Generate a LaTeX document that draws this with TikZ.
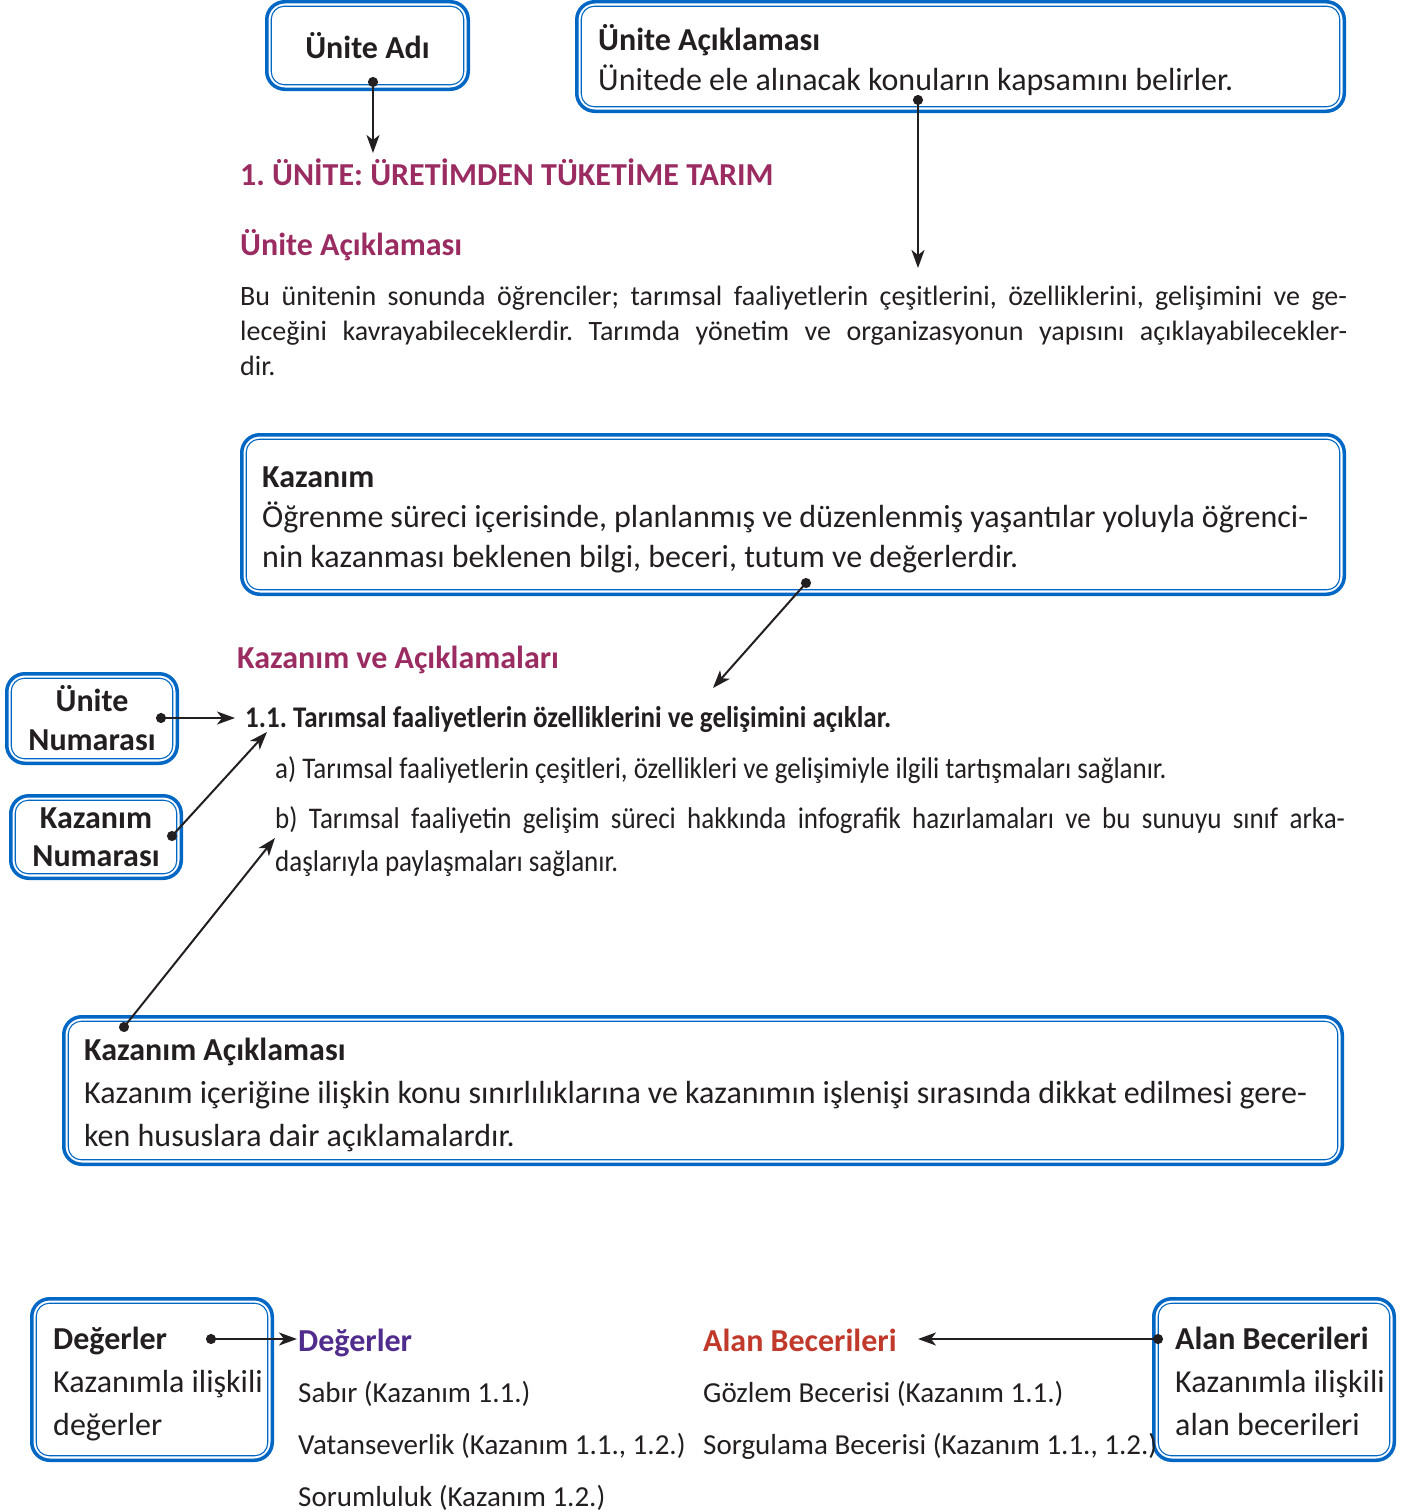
\documentclass[tikz,border=0pt]{standalone}
\usepackage{fontspec}
\setmainfont{Carlito}
\newfontfamily\condfont[FakeStretch=0.9]{Carlito}
\usetikzlibrary{positioning,arrows.meta,calc}
\frenchspacing

\definecolor{ublue}{RGB}{0,103,197}
\definecolor{umag}{RGB}{155,44,98}
\definecolor{upurple}{RGB}{80,45,140}
\definecolor{ured}{RGB}{192,57,43}
\definecolor{ink}{RGB}{35,31,32}

\tikzset{
  ubox/.style={draw=ublue, line width=3.5pt, rounded corners=18pt, fill=white, text=ink,
    path picture={\draw[ublue, line width=1.1pt, rounded corners=13pt]
      ([shift={(4.5pt,4.5pt)}]path picture bounding box.south west) rectangle
      ([shift={(-4.5pt,-4.5pt)}]path picture bounding box.north east);}},
  boxtext/.style={font=\fontsize{32}{40}\selectfont, text=ink, align=flush left, inner sep=0pt, anchor=north west},
  head/.style={font=\fontsize{32}{38}\selectfont\bfseries, text=umag, anchor=base west, inner sep=0pt},
  body/.style={font=\fontsize{28}{35}\selectfont, text=ink, inner sep=0pt},
  cond/.style={font=\fontsize{30}{43}\selectfont\condfont, text=ink, inner sep=0pt},
  item/.style={font=\fontsize{29}{34}\selectfont, text=ink, inner sep=0pt, anchor=base west},
  conn/.style={draw=ink, line width=2pt, {Circle[length=10pt]}-{Stealth[length=18pt,width=13pt,inset=5pt]}, shorten <=-5pt},
}

\begin{document}
\begin{tikzpicture}[x=1pt, y=-1pt]
    \useasboundingbox (0,0) rectangle (1411,1512);

    %%%%%%%%%%%%%%%
    % UNIT HEADER %
    %%%%%%%%%%%%%%%
    \node[ubox, minimum width=201.5pt, minimum height=87.5pt, font=\fontsize{32}{38}\selectfont\bfseries] (adi) at (367.5,45.5) {Ünite Adı};
    \node[ubox, minimum width=767.5pt, minimum height=109.5pt] (uaci) at (960.5,56.5) {};
    \node[boxtext] (uacitext) at (598,22) {\strut\textbf{Ünite Açıklaması}\\Ünitede ele alınacak konuların kapsamını belirler.};

    \node[head] (title) at (240,185) {1. ÜNİTE: ÜRETİMDEN TÜKETİME TARIM};
    \node[head] (uacihead) at (240,255) {Ünite Açıklaması};
    \node[body, anchor=north west, text width=1107pt, align=justify] (para) at (240,281) {\strut Bu ünitenin sonunda öğrenciler; tarımsal faaliyetlerin çeşitlerini, özelliklerini, gelişimini ve ge-\linebreak leceğini kavrayabileceklerdir. Tarımda yönetim ve organizasyonun yapısını açıklayabilecekler-\linebreak dir.};

    %%%%%%%%%%%%%%%%
    % KAZANIM PART %
    %%%%%%%%%%%%%%%%
    \node[ubox, minimum width=1102.5pt, minimum height=159.5pt] (kaz) at (793,514.5) {};
    \node[boxtext, align=justify, text width=1046pt] (kaztext) at (262,459) {\strut\textbf{Kazanım}\\Öğrenme süreci içerisinde, planlanmış ve düzenlenmiş yaşantılar yoluyla öğrenci-\linebreak nin kazanması beklenen bilgi, beceri, tutum ve değerlerdir.};

    \node[head] (kazhead) at (237,668) {Kazanım ve Açıklamaları};
    \node[ubox, minimum width=170.5pt, minimum height=89.5pt, align=flush center, font=\fontsize{32}{39}\selectfont\bfseries] (unum) at (92,718.5) {Ünite\\Numarası};
    \node[ubox, minimum width=170.5pt, minimum height=82.5pt, align=flush center, font=\fontsize{32}{38}\selectfont\bfseries] (knum) at (96,837) {Kazanım\\Numarası};

    \node[cond, anchor=base west, font=\fontsize{30}{34}\selectfont\condfont\bfseries] (k11) at (245,727) {1.1. Tarımsal faaliyetlerin özelliklerini ve gelişimini açıklar.};
    \node[cond, anchor=base west] (itema) at (275,778) {a) Tarımsal faaliyetlerin çeşitleri, özellikleri ve gelişimiyle ilgili tartışmaları sağlanır.};
    \node[cond, anchor=north west, text width=1070pt, align=justify] (itemb) at (275,798) {\noindent\hangindent=30pt\hangafter=1\strut b) Tarımsal faaliyetin gelişim süreci hakkında infografik hazırlamaları ve bu sunuyu sınıf arka-\linebreak daşlarıyla paylaşmaları sağlanır.};

    \node[ubox, minimum width=1278.5pt, minimum height=147.5pt] (kaci) at (703,1090.5) {};
    \node[boxtext, align=justify, text width=1223pt, font=\fontsize{32}{43}\selectfont] (kacitext) at (84,1030) {\strut\textbf{Kazanım Açıklaması}\\Kazanım içeriğine ilişkin konu sınırlılıklarına ve kazanımın işlenişi sırasında dikkat edilmesi gere-\linebreak ken hususlara dair açıklamalardır.};

    %%%%%%%%%%%%%%%%%%%%%%%%%%%%%%%
    % DEGERLER / ALAN BECERILERI %
    %%%%%%%%%%%%%%%%%%%%%%%%%%%%%%%
    \node[ubox, minimum width=240.5pt, minimum height=161.5pt] (degbox) at (152,1379.5) {};
    \node[boxtext, font=\fontsize{32}{43}\selectfont] (degtext) at (53,1319) {\strut\textbf{Değerler}\\Kazanımla ilişkili\\değerler};
    \node[ubox, minimum width=240.5pt, minimum height=161.5pt] (alanbox) at (1274,1379.5) {};
    \node[boxtext, font=\fontsize{32}{43}\selectfont] (alantext) at (1175,1319) {\strut\textbf{Alan Becerileri}\\Kazanımla ilişkili\\alan becerileri};

    \node[head, text=upurple] (deghead) at (298,1351) {Değerler};
    \node[item] (deg1) at (298,1402) {Sabır (Kazanım 1.1.)};
    \node[item] (deg2) at (298,1454) {Vatanseverlik (Kazanım 1.1., 1.2.)};
    \node[item] (deg3) at (298,1506) {Sorumluluk (Kazanım 1.2.)};

    \node[head, text=ured] (alanhead) at (703,1351) {Alan Becerileri};
    \node[item] (alan1) at (703,1402) {Gözlem Becerisi (Kazanım 1.1.)};
    \node[item] (alan2) at (703,1454) {Sorgulama Becerisi (Kazanım 1.1., 1.2.)};

    % connector ends
    \coordinate (adi-dot) at (373,82);
    \coordinate (adi-tip) at (373,153);
    \coordinate (uaci-dot) at (918,100);
    \coordinate (uaci-tip) at (918,268);
    \coordinate (kaz-dot) at (806,583);
    \coordinate (kaz-tip) at (713,688);
    \coordinate (unum-dot) at (161,718);
    \coordinate (unum-tip) at (235,718);
    \coordinate (knum-dot) at (172,836);
    \coordinate (knum-tip) at (267,732);
    \coordinate (kaci-dot) at (124,1027);
    \coordinate (kaci-tip) at (275,838);
    \coordinate (deg-dot) at (211,1339);
    \coordinate (deg-tip) at (297,1339);
    \coordinate (alan-dot) at (1158,1339);
    \coordinate (alan-tip) at (918,1339);

    \draw[conn] (adi-dot) -- (adi-tip);
    \draw[conn] (uaci-dot) -- (uaci-tip);
    \draw[conn] (kaz-dot) -- (kaz-tip);
    \draw[conn] (unum-dot) -- (unum-tip);
    \draw[conn] (knum-dot) -- (knum-tip);
    \draw[conn] (kaci-dot) -- (kaci-tip);
    \draw[conn] (deg-dot) -- (deg-tip);
    \draw[conn] (alan-dot) -- (alan-tip);

\end{tikzpicture}
\end{document}
